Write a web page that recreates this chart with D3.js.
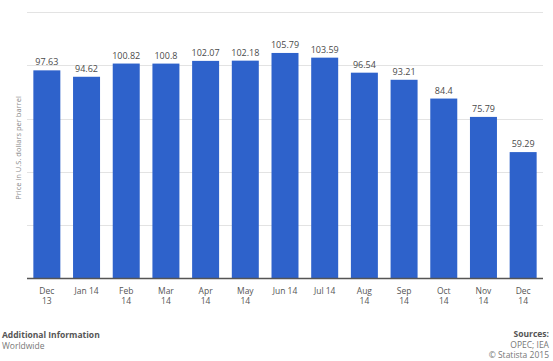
<!DOCTYPE html>
<html><head><meta charset="utf-8">
<script src="https://cdn.jsdelivr.net/npm/d3@7"></script>
<style>html,body{margin:0;padding:0;background:#fff;}svg{display:block;font-family:"Open Sans",sans-serif;}</style>
</head><body><svg id="c" width="553" height="361"></svg>
<script>
const categories = ["Dec 13","Jan 14","Feb 14","Mar 14","Apr 14","May 14","Jun 14","Jul 14","Aug 14","Sep 14","Oct 14","Nov 14","Dec 14"];
const catLines = [["Dec","13"],["Jan 14"],["Feb","14"],["Mar","14"],["Apr","14"],["May","14"],["Jun 14"],["Jul 14"],["Aug","14"],["Sep","14"],["Oct","14"],["Nov","14"],["Dec","14"]];
const values = [97.63,94.62,100.82,100.8,102.07,102.18,105.79,103.59,96.54,93.21,84.4,75.79,59.29];
const yTicks = [0,25,50,75,100,125];

(function(){
const svg = d3.select("#c");
const pl = 27, pr = 543, pt = 12, pb = 278.5;
const x = d3.scaleBand().domain(categories).range([pl,pr]).paddingInner(0.32).paddingOuter(0.16);
const y = d3.scaleLinear().domain([0,125]).range([pb,pt]);

svg.append("g").selectAll("line").data(yTicks.filter(d=>d>0)).join("line")
  .attr("x1",pl).attr("x2",pr).attr("y1",d=>Math.round(y(d))+0.5).attr("y2",d=>Math.round(y(d))+0.5)
  .attr("stroke","#e3e3e3").attr("stroke-width",1);

svg.append("g").selectAll("rect").data(values).join("rect")
  .attr("x",(d,i)=>x(categories[i])).attr("width",x.bandwidth())
  .attr("y",d=>y(d)).attr("height",d=>pb-y(d)).attr("fill","#2e62cb");

svg.append("g").selectAll("text").data(values).join("text")
  .attr("x",(d,i)=>x(categories[i])+x.bandwidth()/2).attr("y",d=>y(d)-5)
  .attr("text-anchor","middle").attr("font-size",9).attr("fill","#4a4a4a").text(d=>d);

svg.append("line").attr("x1",pl).attr("x2",pr).attr("y1",pb).attr("y2",pb)
  .attr("stroke","#555").attr("stroke-width",1.5);

const g = svg.append("g");
categories.forEach((d,i)=>{
  catLines[i].forEach((s,j)=>g.append("text")
    .attr("x",x(d)+x.bandwidth()/2).attr("y",293.5+j*10)
    .attr("text-anchor","middle").attr("font-size",8.5).attr("fill","#555").text(s));
});

svg.append("text").attr("transform","translate(21,148) rotate(-90)").attr("text-anchor","middle")
  .attr("font-size",7.5).attr("fill","#888").text("Price in U.S. dollars per barrel");

svg.append("text").attr("x",2).attr("y",338).attr("font-size",8.5).attr("font-weight","bold").attr("fill","#555").text("Additional Information");
svg.append("text").attr("x",2).attr("y",349).attr("font-size",8.5).attr("fill","#777").text("Worldwide");
svg.append("text").attr("x",549).attr("y",337).attr("text-anchor","end").attr("font-size",8.5).attr("font-weight","bold").attr("fill","#555").text("Sources:");
svg.append("text").attr("x",549).attr("y",348).attr("text-anchor","end").attr("font-size",8.5).attr("fill","#777").text("OPEC; IEA");
svg.append("text").attr("x",549).attr("y",358).attr("text-anchor","end").attr("font-size",8.5).attr("fill","#777").text("© Statista 2015");
})();
</script></body></html>
